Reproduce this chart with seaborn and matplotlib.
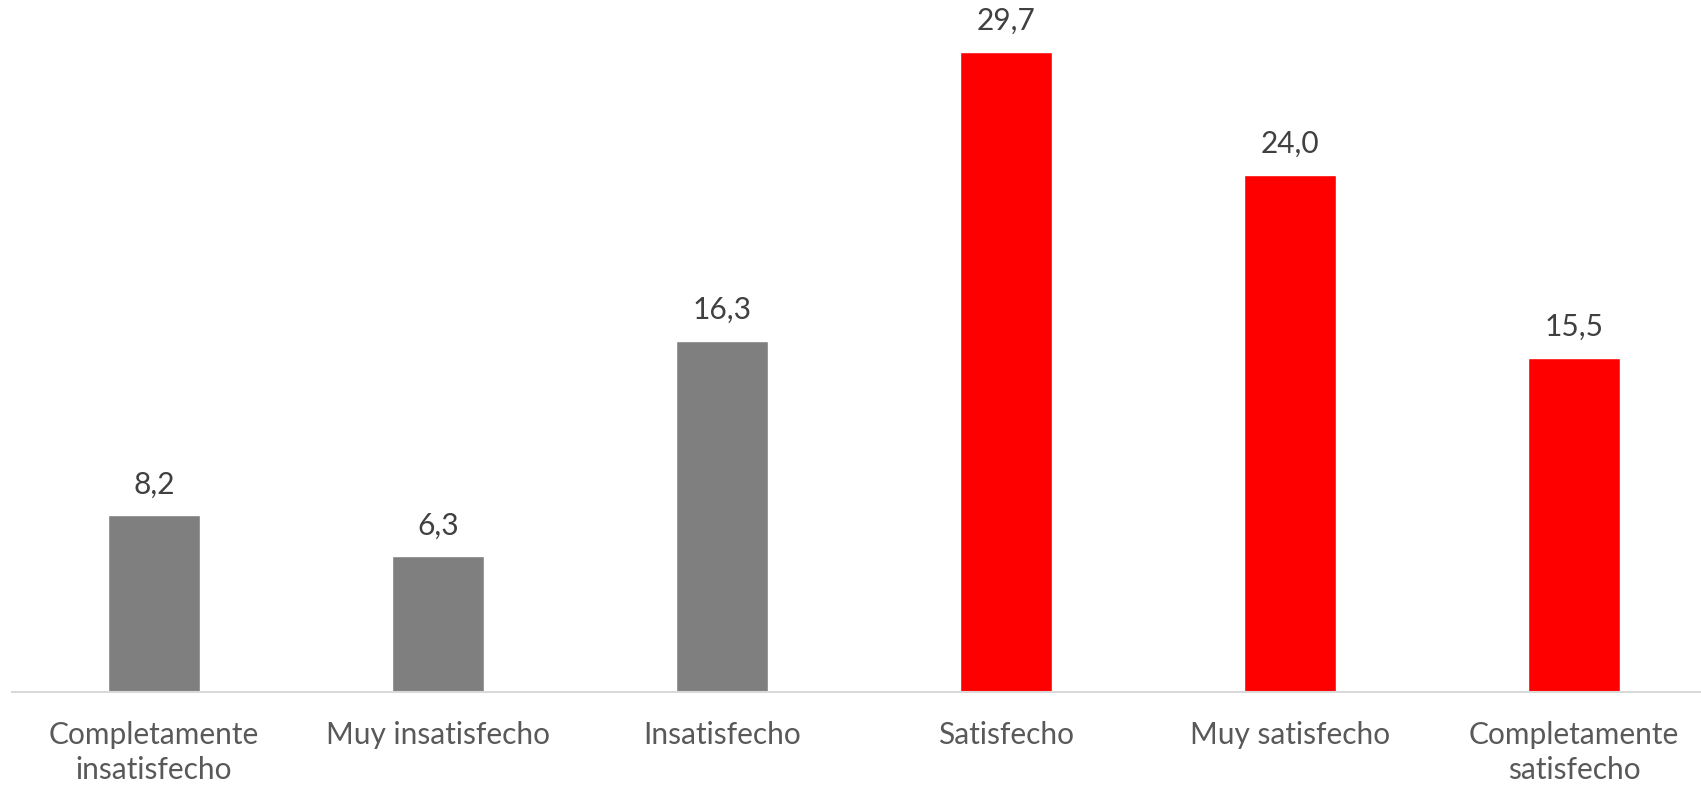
import matplotlib
matplotlib.use('Agg')
import matplotlib.pyplot as plt
import seaborn as sns
import pandas as pd

# datos del gráfico
categorias = ['Completamente\ninsatisfecho', 'Muy insatisfecho', 'Insatisfecho',
              'Satisfecho', 'Muy satisfecho', 'Completamente\nsatisfecho']
valores = [8.2, 6.3, 16.3, 29.7, 24.0, 15.5]
colores = ['#7f7f7f', '#7f7f7f', '#7f7f7f', '#ff0000', '#ff0000', '#ff0000']

sns.set_theme(style='white')
plt.rcParams['font.family'] = ['Lato', 'DejaVu Sans']

df = pd.DataFrame({'categoria': categorias, 'valor': valores})

fig = plt.figure(figsize=(17.01, 7.87), dpi=100)
# el eje se sale un poco por la derecha, como en el original
ax = fig.add_axes([12 / 1701, 95 / 787, 1704 / 1701, 692 / 787])

sns.barplot(data=df, x='categoria', y='valor', hue='categoria',
            palette=colores, width=0.324, legend=False, ax=ax,
            saturation=1)

ax.set_xlim(-0.5, 5.5)
ax.set_ylim(0, 32.1)
ax.set_xlabel('')
ax.set_ylabel('')
ax.set_yticks([])
for s in ['top', 'right', 'left']:
    ax.spines[s].set_visible(False)
ax.spines['bottom'].set_color('#d9d9d9')
ax.spines['bottom'].set_linewidth(1.5)
ax.tick_params(axis='x', length=0, pad=21, labelsize=21.5, labelcolor='#595959')
for lbl in ax.get_xticklabels():
    lbl.set_linespacing(1.3)

# etiquetas de valor con coma decimal
for i, v in enumerate(valores):
    ax.annotate(f'{v:.1f}'.replace('.', ','), (i, v), xytext=(0, 12),
                textcoords='offset points', ha='center', va='bottom',
                fontsize=21.5, color='#404040')

fig.savefig('out.png', dpi=100)
